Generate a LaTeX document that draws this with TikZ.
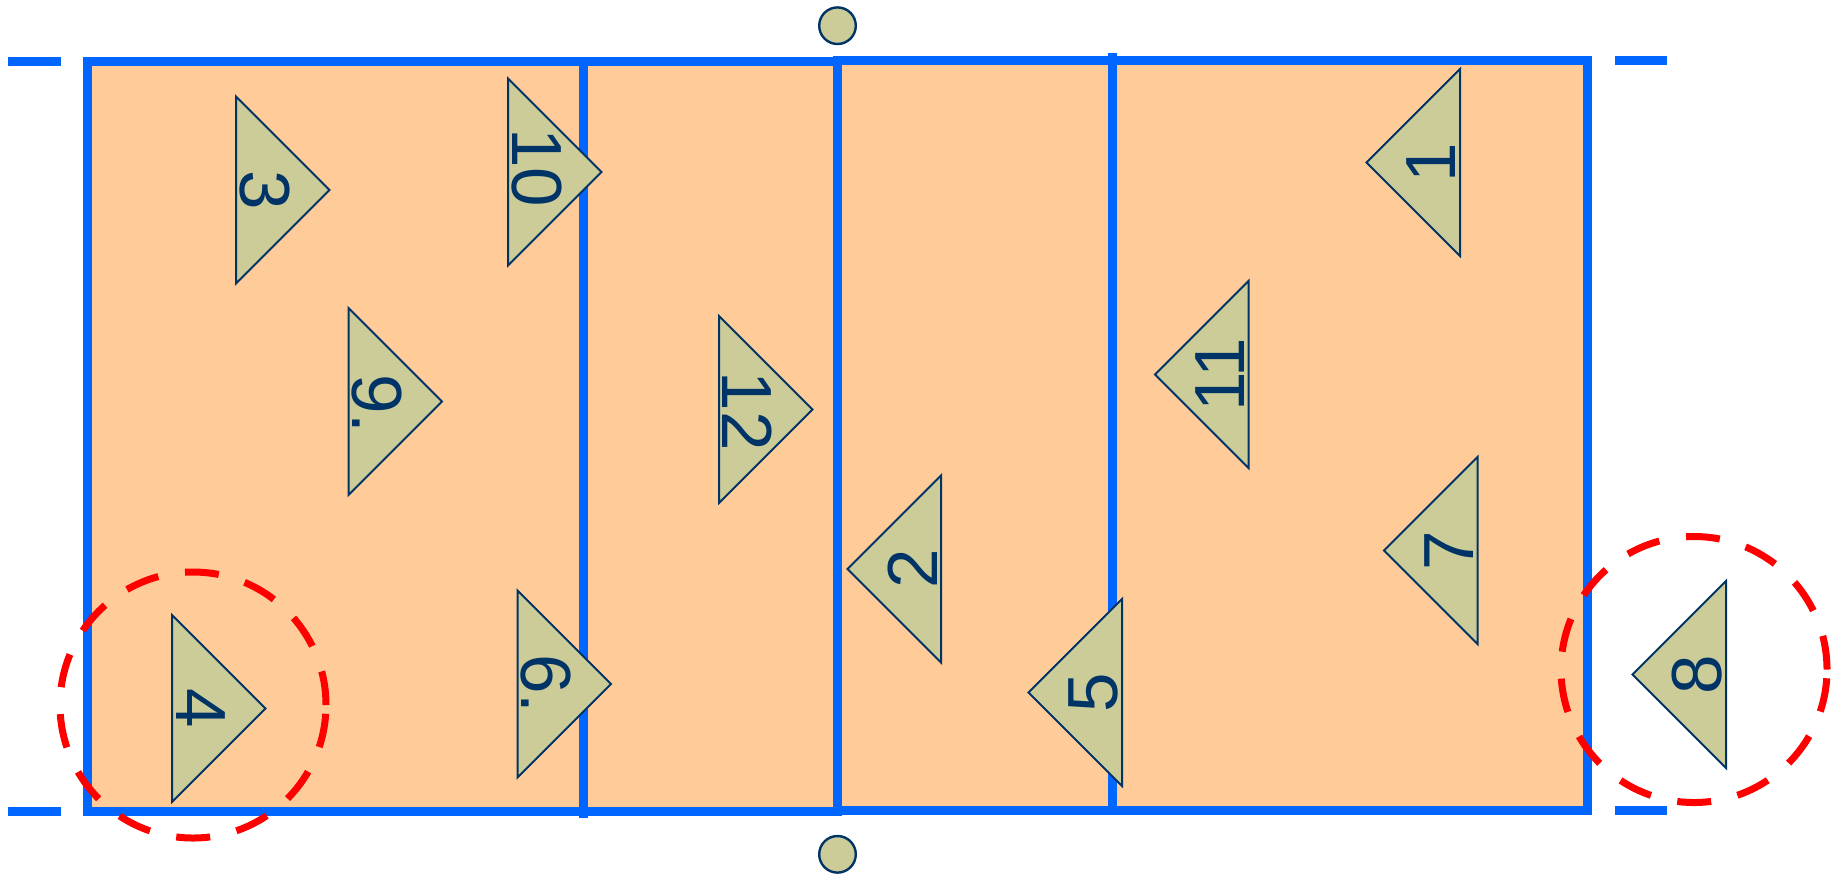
\documentclass[tikz,border=0pt]{standalone}
\usepackage{fontspec}
\setmainfont{Liberation Sans}
\newfontfamily\numfamily{Liberation Sans}
\usepackage{xcolor}
\usepackage{tikz}
\usetikzlibrary{shapes.geometric, positioning}

\definecolor{courtblue}{HTML}{0066FF}
\definecolor{courtfill}{HTML}{FFCC99}
\definecolor{khaki}{HTML}{CCCC99}
\definecolor{navy}{HTML}{003366}
\definecolor{subred}{HTML}{FF0000}
\newcommand{\numfont}{\numfamily\fontsize{35.5}{36}\selectfont}

\begin{document}
\begin{tikzpicture}[
    x=0.5pt, y=0.5pt,
    court/.style={draw=courtblue, line width=4.5pt, line join=miter},
    player/.style={draw=navy, fill=khaki, line width=1pt, line join=miter},
    num/.style={text=navy, font=\numfont, inner sep=0pt},
    post/.style={draw=navy, fill=khaki, circle, line width=1.2pt, inner sep=0pt, minimum size=18.3pt},
    sub/.style={draw=subred, circle, line width=3.5pt, inner sep=0pt, minimum size=133pt, dash pattern=on 17pt off 13.5pt}
]
    \useasboundingbox (0,0) rectangle (1840,-875);

    % ===============================
    % 1. COURT
    % ===============================
    \fill[courtfill] (87.5,-61.5) rectangle (837.5,-811.5);
    \fill[courtfill] (837.5,-60) rectangle (1587.5,-810);

    \draw[court] (837.5,-61.5) -- (87.5,-61.5) -- (87.5,-811.5) -- (837.5,-811.5);
    \draw[court] (837.5,-60) -- (1587.5,-60) -- (1587.5,-810) -- (837.5,-810);
    \draw[court] (583,-61.5) -- (583,-818);
    \draw[court] (1112.5,-53) -- (1112.5,-810);
    \draw[court, line cap=rect] (837.5,-60) -- (837.5,-811.5);

    % outside marks
    \draw[court] (8,-61.5) -- (61,-61.5);
    \draw[court] (8,-811.5) -- (61,-811.5);
    \draw[court] (1615,-60) -- (1667,-60);
    \draw[court] (1615,-810) -- (1667,-810);

    % net posts
    \node[post] (posttop) at (837.5,-25.7) {};
    \node[post] (postbot) at (837.5,-854.3) {};

    % ===============================
    % 2. PLAYERS (left side)
    % ===============================
    \draw[player] (236,-96.5) -- ++(93.5,-93.5) -- ++(-93.5,-93.5) -- cycle;
    \node[num, rotate=-90] (p3) at (264.5,-190) {3};

    \draw[player] (508,-78.5) -- ++(93.5,-93.5) -- ++(-93.5,-93.5) -- cycle;
    \node[num, rotate=-90] (p10) at (536.5,-168) {10};

    \draw[player] (348.5,-308) -- ++(93.5,-93.5) -- ++(-93.5,-93.5) -- cycle;
    \node[num, rotate=-90] (p9) at (377,-404) {9.};

    \draw[player] (719,-316) -- ++(93.5,-93.5) -- ++(-93.5,-93.5) -- cycle;
    \node[num, rotate=-90] (p12) at (747.5,-411) {12};

    \draw[player] (172,-615) -- ++(93.5,-93.5) -- ++(-93.5,-93.5) -- cycle;
    \node[num, rotate=-90] (p4) at (200.5,-708.5) {4};

    \draw[player] (517.5,-590.5) -- ++(93.5,-93.5) -- ++(-93.5,-93.5) -- cycle;
    \node[num, rotate=-90] (p6) at (546,-684) {6.};

    % ===============================
    % 3. PLAYERS (right side)
    % ===============================
    \draw[player] (941,-475.5) -- ++(-93.5,-93.5) -- ++(93.5,-93.5) -- cycle;
    \node[num, rotate=90] (p2) at (912.5,-569) {2};

    \draw[player] (1122,-599) -- ++(-93.5,-93.5) -- ++(93.5,-93.5) -- cycle;
    \node[num, rotate=90] (p5) at (1093.5,-692.5) {5};

    \draw[player] (1460,-69) -- ++(-93.5,-93.5) -- ++(93.5,-93.5) -- cycle;
    \node[num, rotate=90] (p1) at (1431.5,-162.5) {1};

    \draw[player] (1248.5,-281) -- ++(-93.5,-93.5) -- ++(93.5,-93.5) -- cycle;
    \node[num, rotate=90] (p11) at (1220,-374.5) {11};

    \draw[player] (1477.5,-457) -- ++(-93.5,-93.5) -- ++(93.5,-93.5) -- cycle;
    \node[num, rotate=90] (p7) at (1449,-550.5) {7};

    \draw[player] (1726,-581) -- ++(-93.5,-93.5) -- ++(93.5,-93.5) -- cycle;
    \node[num, rotate=90] (p8) at (1697.5,-674.5) {8};

    % ===============================
    % 4. SUBSTITUTION MARKS
    % ===============================
    \node[sub] (sub4) at (193,-705) {};
    \node[sub] (sub8) at (1694,-669.5) {};

\end{tikzpicture}
\end{document}
